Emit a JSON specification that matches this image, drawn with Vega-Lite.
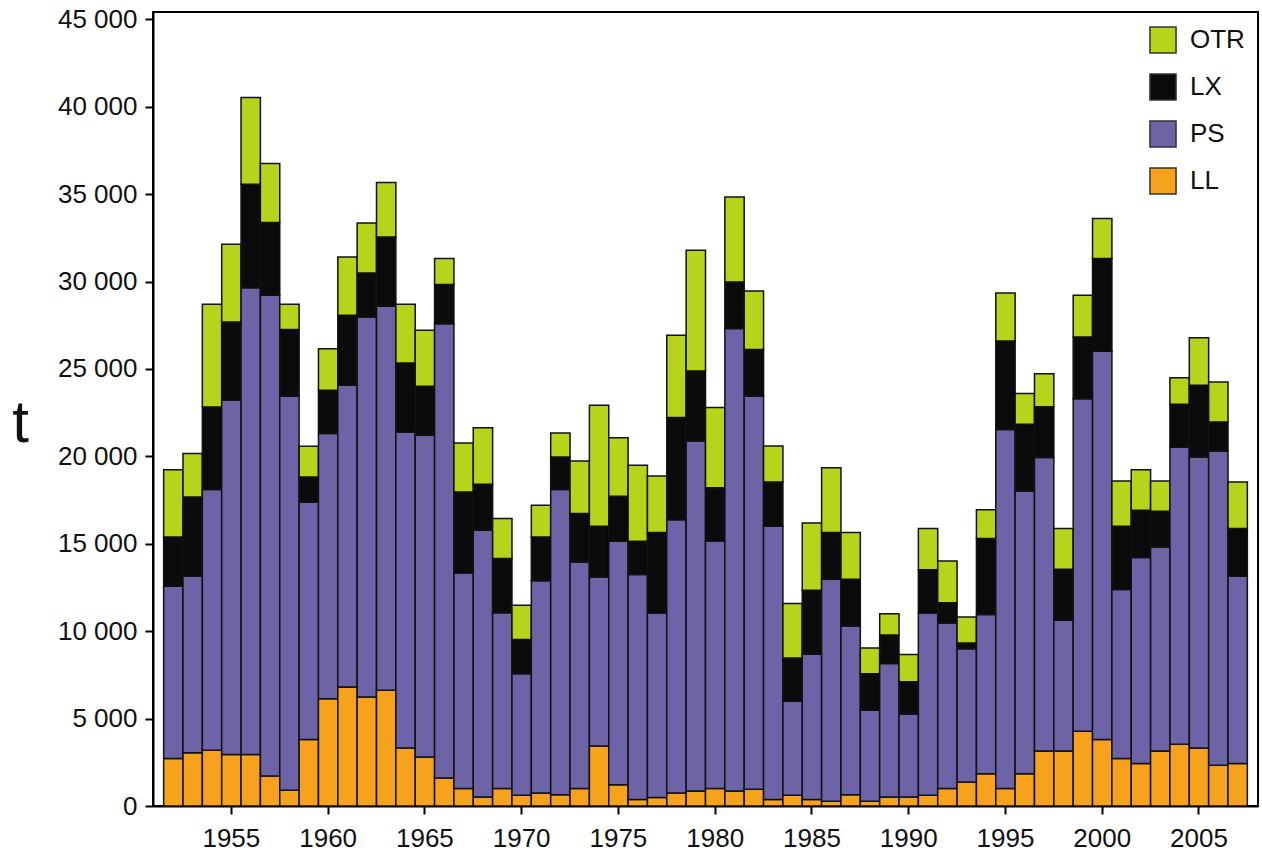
{
  "$schema": "https://vega.github.io/schema/vega-lite/v6.json",
  "width": 1105,
  "height": 794,
  "autosize": "none",
  "padding": {"left": 153, "top": 12, "right": 4, "bottom": 51},
  "background": "white",
  "config": {
    "view": {"stroke": "black", "strokeWidth": 2},
    "font": "Liberation Sans"
  },
  "data": {
    "values": [
      {"year":1952,"gear":"LL","catch":2710},{"year":1952,"gear":"PS","catch":9860},{"year":1952,"gear":"LX","catch":2820},{"year":1952,"gear":"OTR","catch":3850},
      {"year":1953,"gear":"LL","catch":3050},{"year":1953,"gear":"PS","catch":10090},{"year":1953,"gear":"LX","catch":4540},{"year":1953,"gear":"OTR","catch":2480},
      {"year":1954,"gear":"LL","catch":3190},{"year":1954,"gear":"PS","catch":14910},{"year":1954,"gear":"LX","catch":4720},{"year":1954,"gear":"OTR","catch":5880},
      {"year":1955,"gear":"LL","catch":2940},{"year":1955,"gear":"PS","catch":20270},{"year":1955,"gear":"LX","catch":4480},{"year":1955,"gear":"OTR","catch":4440},
      {"year":1956,"gear":"LL","catch":2940},{"year":1956,"gear":"PS","catch":26710},{"year":1956,"gear":"LX","catch":5910},{"year":1956,"gear":"OTR","catch":4960},
      {"year":1957,"gear":"LL","catch":1720},{"year":1957,"gear":"PS","catch":27490},{"year":1957,"gear":"LX","catch":4160},{"year":1957,"gear":"OTR","catch":3380},
      {"year":1958,"gear":"LL","catch":900},{"year":1958,"gear":"PS","catch":22540},{"year":1958,"gear":"LX","catch":3810},{"year":1958,"gear":"OTR","catch":1450},
      {"year":1959,"gear":"LL","catch":3800},{"year":1959,"gear":"PS","catch":13570},{"year":1959,"gear":"LX","catch":1450},{"year":1959,"gear":"OTR","catch":1760},
      {"year":1960,"gear":"LL","catch":6140},{"year":1960,"gear":"PS","catch":15160},{"year":1960,"gear":"LX","catch":2480},{"year":1960,"gear":"OTR","catch":2380},
      {"year":1961,"gear":"LL","catch":6810},{"year":1961,"gear":"PS","catch":17260},{"year":1961,"gear":"LX","catch":4000},{"year":1961,"gear":"OTR","catch":3330},
      {"year":1962,"gear":"LL","catch":6240},{"year":1962,"gear":"PS","catch":21730},{"year":1962,"gear":"LX","catch":2520},{"year":1962,"gear":"OTR","catch":2860},
      {"year":1963,"gear":"LL","catch":6620},{"year":1963,"gear":"PS","catch":21960},{"year":1963,"gear":"LX","catch":3970},{"year":1963,"gear":"OTR","catch":3110},
      {"year":1964,"gear":"LL","catch":3320},{"year":1964,"gear":"PS","catch":18070},{"year":1964,"gear":"LX","catch":3950},{"year":1964,"gear":"OTR","catch":3360},
      {"year":1965,"gear":"LL","catch":2800},{"year":1965,"gear":"PS","catch":18400},{"year":1965,"gear":"LX","catch":2810},{"year":1965,"gear":"OTR","catch":3200},
      {"year":1966,"gear":"LL","catch":1600},{"year":1966,"gear":"PS","catch":25990},{"year":1966,"gear":"LX","catch":2240},{"year":1966,"gear":"OTR","catch":1490},
      {"year":1967,"gear":"LL","catch":1000},{"year":1967,"gear":"PS","catch":12330},{"year":1967,"gear":"LX","catch":4630},{"year":1967,"gear":"OTR","catch":2800},
      {"year":1968,"gear":"LL","catch":520},{"year":1968,"gear":"PS","catch":15250},{"year":1968,"gear":"LX","catch":2630},{"year":1968,"gear":"OTR","catch":3240},
      {"year":1969,"gear":"LL","catch":1000},{"year":1969,"gear":"PS","catch":10060},{"year":1969,"gear":"LX","catch":3090},{"year":1969,"gear":"OTR","catch":2290},
      {"year":1970,"gear":"LL","catch":610},{"year":1970,"gear":"PS","catch":6960},{"year":1970,"gear":"LX","catch":1950},{"year":1970,"gear":"OTR","catch":1960},
      {"year":1971,"gear":"LL","catch":750},{"year":1971,"gear":"PS","catch":12130},{"year":1971,"gear":"LX","catch":2510},{"year":1971,"gear":"OTR","catch":1810},
      {"year":1972,"gear":"LL","catch":650},{"year":1972,"gear":"PS","catch":17450},{"year":1972,"gear":"LX","catch":1860},{"year":1972,"gear":"OTR","catch":1370},
      {"year":1973,"gear":"LL","catch":1000},{"year":1973,"gear":"PS","catch":12960},{"year":1973,"gear":"LX","catch":2770},{"year":1973,"gear":"OTR","catch":3000},
      {"year":1974,"gear":"LL","catch":3430},{"year":1974,"gear":"PS","catch":9670},{"year":1974,"gear":"LX","catch":2900},{"year":1974,"gear":"OTR","catch":6930},
      {"year":1975,"gear":"LL","catch":1220},{"year":1975,"gear":"PS","catch":13920},{"year":1975,"gear":"LX","catch":2580},{"year":1975,"gear":"OTR","catch":3350},
      {"year":1976,"gear":"LL","catch":370},{"year":1976,"gear":"PS","catch":12870},{"year":1976,"gear":"LX","catch":1900},{"year":1976,"gear":"OTR","catch":4350},
      {"year":1977,"gear":"LL","catch":480},{"year":1977,"gear":"PS","catch":10560},{"year":1977,"gear":"LX","catch":4600},{"year":1977,"gear":"OTR","catch":3240},
      {"year":1978,"gear":"LL","catch":740},{"year":1978,"gear":"PS","catch":15640},{"year":1978,"gear":"LX","catch":5840},{"year":1978,"gear":"OTR","catch":4700},
      {"year":1979,"gear":"LL","catch":860},{"year":1979,"gear":"PS","catch":20020},{"year":1979,"gear":"LX","catch":4000},{"year":1979,"gear":"OTR","catch":6910},
      {"year":1980,"gear":"LL","catch":1000},{"year":1980,"gear":"PS","catch":14160},{"year":1980,"gear":"LX","catch":3050},{"year":1980,"gear":"OTR","catch":4580},
      {"year":1981,"gear":"LL","catch":860},{"year":1981,"gear":"PS","catch":26450},{"year":1981,"gear":"LX","catch":2660},{"year":1981,"gear":"OTR","catch":4870},
      {"year":1982,"gear":"LL","catch":960},{"year":1982,"gear":"PS","catch":22490},{"year":1982,"gear":"LX","catch":2660},{"year":1982,"gear":"OTR","catch":3350},
      {"year":1983,"gear":"LL","catch":370},{"year":1983,"gear":"PS","catch":15630},{"year":1983,"gear":"LX","catch":2530},{"year":1983,"gear":"OTR","catch":2060},
      {"year":1984,"gear":"LL","catch":610},{"year":1984,"gear":"PS","catch":5380},{"year":1984,"gear":"LX","catch":2480},{"year":1984,"gear":"OTR","catch":3110},
      {"year":1985,"gear":"LL","catch":370},{"year":1985,"gear":"PS","catch":8310},{"year":1985,"gear":"LX","catch":3660},{"year":1985,"gear":"OTR","catch":3850},
      {"year":1986,"gear":"LL","catch":270},{"year":1986,"gear":"PS","catch":12700},{"year":1986,"gear":"LX","catch":2670},{"year":1986,"gear":"OTR","catch":3710},
      {"year":1987,"gear":"LL","catch":650},{"year":1987,"gear":"PS","catch":9650},{"year":1987,"gear":"LX","catch":2670},{"year":1987,"gear":"OTR","catch":2670},
      {"year":1988,"gear":"LL","catch":270},{"year":1988,"gear":"PS","catch":5200},{"year":1988,"gear":"LX","catch":2100},{"year":1988,"gear":"OTR","catch":1470},
      {"year":1989,"gear":"LL","catch":520},{"year":1989,"gear":"PS","catch":7630},{"year":1989,"gear":"LX","catch":1630},{"year":1989,"gear":"OTR","catch":1220},
      {"year":1990,"gear":"LL","catch":520},{"year":1990,"gear":"PS","catch":4740},{"year":1990,"gear":"LX","catch":1850},{"year":1990,"gear":"OTR","catch":1560},
      {"year":1991,"gear":"LL","catch":610},{"year":1991,"gear":"PS","catch":10430},{"year":1991,"gear":"LX","catch":2480},{"year":1991,"gear":"OTR","catch":2350},
      {"year":1992,"gear":"LL","catch":1000},{"year":1992,"gear":"PS","catch":9470},{"year":1992,"gear":"LX","catch":1160},{"year":1992,"gear":"OTR","catch":2380},
      {"year":1993,"gear":"LL","catch":1370},{"year":1993,"gear":"PS","catch":7630},{"year":1993,"gear":"LX","catch":320},{"year":1993,"gear":"OTR","catch":1490},
      {"year":1994,"gear":"LL","catch":1850},{"year":1994,"gear":"PS","catch":9100},{"year":1994,"gear":"LX","catch":4350},{"year":1994,"gear":"OTR","catch":1650},
      {"year":1995,"gear":"LL","catch":1000},{"year":1995,"gear":"PS","catch":20530},{"year":1995,"gear":"LX","catch":5070},{"year":1995,"gear":"OTR","catch":2740},
      {"year":1996,"gear":"LL","catch":1850},{"year":1996,"gear":"PS","catch":16170},{"year":1996,"gear":"LX","catch":3810},{"year":1996,"gear":"OTR","catch":1760},
      {"year":1997,"gear":"LL","catch":3150},{"year":1997,"gear":"PS","catch":16780},{"year":1997,"gear":"LX","catch":2910},{"year":1997,"gear":"OTR","catch":1890},
      {"year":1998,"gear":"LL","catch":3150},{"year":1998,"gear":"PS","catch":7470},{"year":1998,"gear":"LX","catch":2920},{"year":1998,"gear":"OTR","catch":2330},
      {"year":1999,"gear":"LL","catch":4270},{"year":1999,"gear":"PS","catch":19030},{"year":1999,"gear":"LX","catch":3530},{"year":1999,"gear":"OTR","catch":2380},
      {"year":2000,"gear":"LL","catch":3800},{"year":2000,"gear":"PS","catch":22210},{"year":2000,"gear":"LX","catch":5300},{"year":2000,"gear":"OTR","catch":2290},
      {"year":2001,"gear":"LL","catch":2710},{"year":2001,"gear":"PS","catch":9670},{"year":2001,"gear":"LX","catch":3620},{"year":2001,"gear":"OTR","catch":2590},
      {"year":2002,"gear":"LL","catch":2430},{"year":2002,"gear":"PS","catch":11780},{"year":2002,"gear":"LX","catch":2700},{"year":2002,"gear":"OTR","catch":2330},
      {"year":2003,"gear":"LL","catch":3150},{"year":2003,"gear":"PS","catch":11670},{"year":2003,"gear":"LX","catch":2040},{"year":2003,"gear":"OTR","catch":1730},
      {"year":2004,"gear":"LL","catch":3530},{"year":2004,"gear":"PS","catch":17010},{"year":2004,"gear":"LX","catch":2440},{"year":2004,"gear":"OTR","catch":1520},
      {"year":2005,"gear":"LL","catch":3320},{"year":2005,"gear":"PS","catch":16640},{"year":2005,"gear":"LX","catch":4100},{"year":2005,"gear":"OTR","catch":2730},
      {"year":2006,"gear":"LL","catch":2330},{"year":2006,"gear":"PS","catch":17980},{"year":2006,"gear":"LX","catch":1660},{"year":2006,"gear":"OTR","catch":2280},
      {"year":2007,"gear":"LL","catch":2430},{"year":2007,"gear":"PS","catch":10710},{"year":2007,"gear":"LX","catch":2730},{"year":2007,"gear":"OTR","catch":2660}
    ]
  },
  "transform": [
    {
      "lookup": "gear",
      "from": {
        "data": {"values": [
          {"gear": "LL", "stackOrder": 0},
          {"gear": "PS", "stackOrder": 1},
          {"gear": "LX", "stackOrder": 2},
          {"gear": "OTR", "stackOrder": 3}
        ]},
        "key": "gear",
        "fields": ["stackOrder"]
      }
    }
  ],
  "mark": {"type": "bar", "stroke": "#111111", "strokeWidth": 1.5, "fillOpacity": 1},
  "encoding": {
    "x": {
      "field": "year",
      "type": "ordinal",
      "scale": {"paddingInner": 0, "paddingOuter": 0.55},
      "axis": {
        "values": [1955, 1960, 1965, 1970, 1975, 1980, 1985, 1990, 1995, 2000, 2005],
        "labelAngle": 0,
        "title": null,
        "labelFontSize": 26,
        "labelColor": "#111111",
        "labelPadding": 11,
        "tickSize": 8,
        "tickWidth": 2,
        "tickColor": "black",
        "domainWidth": 2,
        "domainColor": "black",
        "grid": false
      }
    },
    "y": {
      "field": "catch",
      "type": "quantitative",
      "stack": "zero",
      "scale": {"domain": [0, 45417], "nice": false},
      "axis": {
        "values": [0, 5000, 10000, 15000, 20000, 25000, 30000, 35000, 40000, 45000],
        "labelExpr": "replace(format(datum.value, ','), ',', ' ')",
        "labelFontSize": 26,
        "labelColor": "#111111",
        "labelPadding": 8,
        "tickSize": 8,
        "tickWidth": 2,
        "tickColor": "black",
        "domainWidth": 2,
        "domainColor": "black",
        "grid": false,
        "title": "t",
        "titleAngle": 0,
        "titleFontSize": 60,
        "titleFontWeight": "normal",
        "titleColor": "#111111",
        "titleX": -133,
        "titleY": 429,
        "titleAlign": "center",
        "titleBaseline": "alphabetic"
      }
    },
    "color": {
      "field": "gear",
      "type": "nominal",
      "scale": {
        "domain": ["OTR", "LX", "PS", "LL"],
        "range": ["#b6d41c", "#0b0b0b", "#6c64a6", "#f6a21c"]
      },
      "legend": {
        "orient": "none",
        "legendX": 996,
        "legendY": 14,
        "title": null,
        "symbolType": "square",
        "symbolSize": 680,
        "symbolStrokeColor": "#333333",
        "symbolStrokeWidth": 1.5,
        "symbolOpacity": 1,
        "labelFontSize": 26,
        "labelColor": "#111111",
        "labelOffset": 13,
        "rowPadding": 13,
        "padding": 0
      }
    },
    "order": {"field": "stackOrder", "type": "quantitative"}
  }
}
